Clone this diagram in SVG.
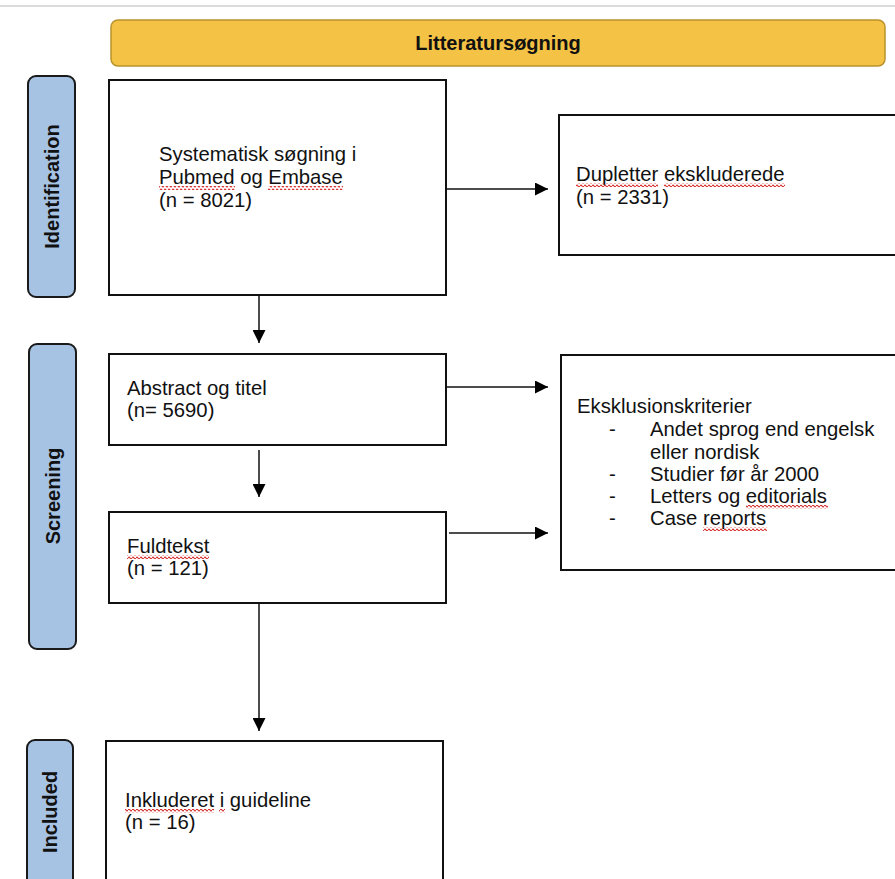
<svg xmlns="http://www.w3.org/2000/svg" width="895" height="879" viewBox="0 0 895 879">
<style>
text{font-family:"Liberation Sans",Arial,sans-serif;fill:#111}
.t{font-size:20.3px}
.b{font-size:20px;font-weight:bold}
.box{fill:#fff;stroke:#111;stroke-width:2}
.tab{fill:#a7c3e4;stroke:#1a1a1a;stroke-width:2}
.ban{fill:#f4c244;stroke:#b8922c;stroke-width:1.5}
.c{stroke:#111;stroke-width:1.5;fill:none}
.sq{fill:url(#wavy)}
</style>
<defs>
<marker id="ah" markerUnits="userSpaceOnUse" markerWidth="14" markerHeight="13" refX="13" refY="6.5" orient="auto">
<path d="M0,0 L13,6.5 L0,13 Z" fill="#000"/>
</marker>
<pattern id="wavy" patternUnits="userSpaceOnUse" width="4" height="4">
<path d="M0,2 Q1,0.2 2,2 T4,2" fill="none" stroke="#d83030" stroke-width="1.1"/>
</pattern>
</defs>
<rect width="895" height="879" fill="#fff"/>
<line x1="0" y1="6" x2="895" y2="6" stroke="#cfcfcf" stroke-width="1.5"/>

<g id="banner">
<rect class="ban" x="111" y="20" width="774" height="46" rx="7"/>
<text class="b" x="498" y="50" text-anchor="middle">Litteratursøgning</text>
</g>

<g id="tab-identification">
<rect class="tab" x="28" y="76" width="47" height="221" rx="8"/>
<text class="b" transform="translate(59,186.5) rotate(-90)" text-anchor="middle">Identification</text>
</g>
<g id="tab-screening">
<rect class="tab" x="29" y="344" width="47" height="305" rx="8"/>
<text class="b" transform="translate(60,496) rotate(-90)" text-anchor="middle">Screening</text>
</g>
<g id="tab-included">
<rect class="tab" x="27" y="740" width="46" height="150" rx="8"/>
<text class="b" transform="translate(57,812) rotate(-90)" text-anchor="middle">Included</text>
</g>

<g id="n-search">
<rect class="box" x="109" y="80" width="337" height="215"/>
<text class="t" x="159" y="161">Systematisk søgning i</text>
<text class="t" x="159" y="184">Pubmed og Embase</text>
<text class="t" x="159" y="207">(n = 8021)</text>
<rect class="sq" x="159" y="186" width="76" height="4"/>
<rect class="sq" x="268" y="186" width="75" height="4"/>
</g>

<g id="n-duplicates">
<rect class="box" x="559" y="115" width="345" height="140"/>
<text class="t" x="576" y="181">Dupletter ekskluderede</text>
<text class="t" x="576" y="204">(n = 2331)</text>
<rect class="sq" x="576" y="183" width="82" height="4"/>
<rect class="sq" x="664" y="183" width="121" height="4"/>
</g>

<g id="n-abstract">
<rect class="box" x="109" y="354" width="337" height="91"/>
<text class="t" x="127" y="395">Abstract og titel</text>
<text class="t" x="127" y="417">(n= 5690)</text>
</g>

<g id="n-exclusion">
<rect class="box" x="561" y="355" width="343" height="215"/>
<text class="t" x="577" y="413">Eksklusionskriterier</text>
<text class="t" x="609" y="436">-</text>
<text class="t" x="650" y="436">Andet sprog end engelsk</text>
<text class="t" x="650" y="459">eller nordisk</text>
<text class="t" x="609" y="481">-</text>
<text class="t" x="650" y="481">Studier før år 2000</text>
<text class="t" x="609" y="503">-</text>
<text class="t" x="650" y="503">Letters og editorials</text>
<text class="t" x="609" y="525">-</text>
<text class="t" x="650" y="525">Case reports</text>
<rect class="sq" x="746" y="505" width="82" height="4"/>
<rect class="sq" x="703" y="527" width="64" height="4"/>
</g>

<g id="n-fulltext">
<rect class="box" x="109" y="512" width="337" height="91"/>
<text class="t" x="127" y="553">Fuldtekst</text>
<text class="t" x="127" y="575">(n = 121)</text>
<rect class="sq" x="127" y="555" width="82" height="4"/>
</g>

<g id="n-included">
<rect class="box" x="106" y="741" width="337" height="150"/>
<text class="t" x="125" y="807">Inkluderet i guideline</text>
<text class="t" x="125" y="829">(n = 16)</text>
<rect class="sq" x="125" y="809" width="89" height="4"/>
<rect class="sq" x="219" y="809" width="6" height="4"/>
</g>

<g id="connectors">
<line class="c" x1="446" y1="189" x2="548" y2="189" marker-end="url(#ah)"/>
<line class="c" x1="259" y1="295" x2="259" y2="343" marker-end="url(#ah)"/>
<line class="c" x1="446" y1="387" x2="548" y2="387" marker-end="url(#ah)"/>
<line class="c" x1="259" y1="450" x2="259" y2="497" marker-end="url(#ah)"/>
<line class="c" x1="449" y1="533" x2="548" y2="533" marker-end="url(#ah)"/>
<line class="c" x1="259" y1="603" x2="259" y2="731" marker-end="url(#ah)"/>
</g>
</svg>
